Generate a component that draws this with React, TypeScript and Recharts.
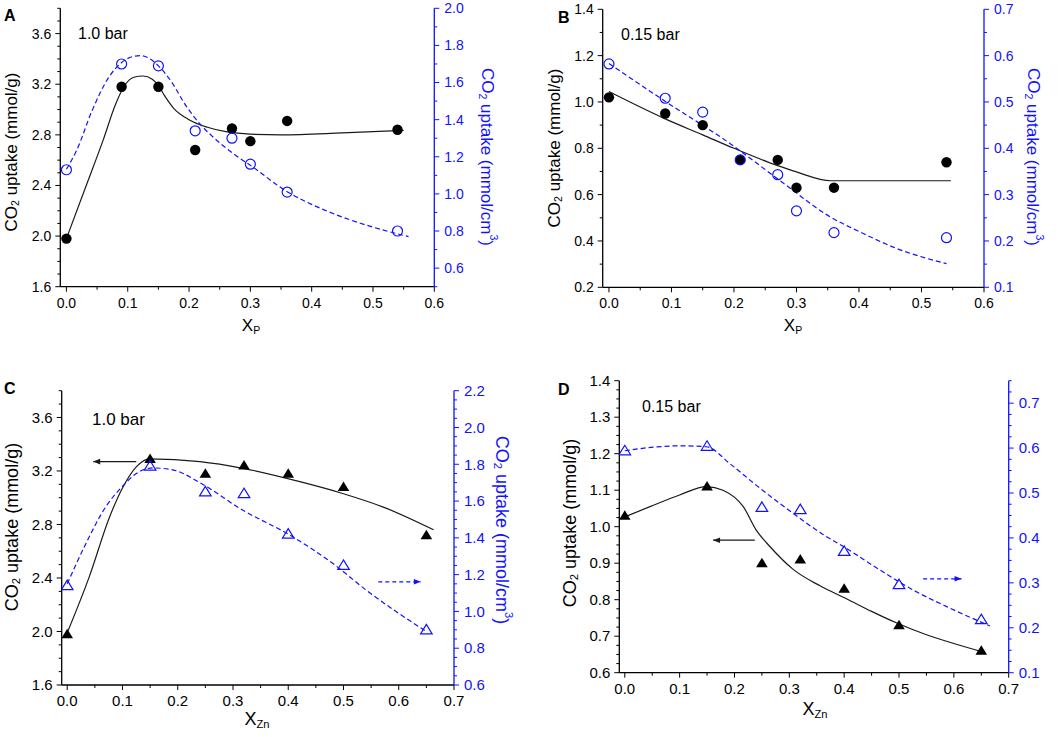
import React from 'react';
import { ComposedChart, Line, Scatter, XAxis, YAxis } from 'recharts';

const BLUE = '#1212ff';
const FONT = 'Arial, "Liberation Sans", Helvetica, sans-serif';

// ---------- data: composition (x) ----------
const xP = [0, 0.09, 0.15, 0.21, 0.27, 0.3, 0.36, 0.54];
const xZn = [0, 0.15, 0.25, 0.32, 0.4, 0.5, 0.65];

// Panel A (1.0 bar, X_P)
const aMass = [1.98, 3.18, 3.18, 2.68, 2.85, 2.75, 2.91, 2.84];
const aVol = [1.13, 1.7, 1.69, 1.34, 1.3, 1.16, 1.01, 0.8];
// Panel B (0.15 bar, X_P)
const bMass = [1.02, 0.95, 0.9, 0.75, 0.75, 0.63, 0.63, 0.74];
const bVol = [0.582, 0.508, 0.478, 0.375, 0.343, 0.265, 0.218, 0.207];
// Panel C (1.0 bar, X_Zn)
const cMass = [1.98, 3.29, 3.18, 3.24, 3.18, 3.08, 2.72];
const cVol = [1.14, 1.79, 1.65, 1.64, 1.42, 1.25, 0.9];
// Panel D (0.15 bar, X_Zn)
const dMass = [1.03, 1.11, 0.9, 0.91, 0.83, 0.73, 0.66];
const dVol = [0.594, 0.604, 0.468, 0.463, 0.37, 0.296, 0.218];

// ---------- fitted guide curves [x, y] ----------
const aMassFit: [number, number][] = [
  [0, 1.98], [0.03, 2.37], [0.06, 2.76], [0.08, 3.04], [0.095, 3.19], [0.11, 3.255], [0.125, 3.265],
  [0.14, 3.24], [0.15, 3.19], [0.16, 3.11], [0.175, 3.01], [0.2, 2.92], [0.23, 2.86], [0.26, 2.825],
  [0.3, 2.805], [0.35, 2.8], [0.45, 2.815], [0.55, 2.835],
];
const aVolFit: [number, number][] = [
  [0, 1.133], [0.017, 1.237], [0.042, 1.45], [0.07, 1.633], [0.089, 1.705], [0.108, 1.74], [0.12, 1.745],
  [0.135, 1.73], [0.15, 1.69], [0.169, 1.615], [0.196, 1.47], [0.217, 1.38], [0.238, 1.31], [0.271, 1.22],
  [0.303, 1.147], [0.36, 1.012], [0.409, 0.93], [0.463, 0.86], [0.517, 0.805], [0.558, 0.77],
];
const bMassFit: [number, number][] = [
  [0, 1.045], [0.09, 0.927], [0.15, 0.858], [0.2, 0.8], [0.27, 0.725], [0.3, 0.698], [0.355, 0.66],
  [0.4, 0.66], [0.547, 0.66],
];
const bVolFit: [number, number][] = [
  [0, 0.583], [0.087, 0.504], [0.194, 0.41], [0.273, 0.331], [0.354, 0.252], [0.407, 0.216],
  [0.46, 0.184], [0.54, 0.151],
];
const cMassFit: [number, number][] = [
  [0, 1.99], [0.04, 2.41], [0.077, 2.86], [0.101, 3.08], [0.125, 3.23], [0.149, 3.29], [0.24, 3.27],
  [0.318, 3.22], [0.421, 3.12], [0.5, 3.03], [0.572, 2.93], [0.663, 2.76],
];
const cVolFit: [number, number][] = [
  [0, 1.15], [0.034, 1.37], [0.07, 1.57], [0.1, 1.68], [0.125, 1.75], [0.155, 1.78], [0.191, 1.77],
  [0.24, 1.7], [0.318, 1.55], [0.403, 1.415], [0.481, 1.26], [0.541, 1.116], [0.65, 0.89],
];
const dMassFit: [number, number][] = [
  [0, 1.027], [0.046, 1.055], [0.1, 1.087], [0.149, 1.11], [0.179, 1.1], [0.216, 1.055], [0.24, 0.99],
  [0.265, 0.945], [0.307, 0.883], [0.356, 0.838], [0.405, 0.802], [0.45, 0.768], [0.496, 0.736],
  [0.55, 0.704], [0.6, 0.68], [0.657, 0.655],
];
const dVolFit: [number, number][] = [
  [0, 0.594], [0.052, 0.602], [0.1, 0.605], [0.149, 0.603], [0.192, 0.565], [0.24, 0.517], [0.3, 0.461],
  [0.36, 0.409], [0.405, 0.376], [0.466, 0.328], [0.526, 0.284], [0.587, 0.247], [0.666, 0.204],
];

// ---------- axis arrows [start, end] ----------
const cMassArrow: [number, number][] = [[0.125, 3.27], [0.047, 3.27]];
const cVolArrow: [number, number][] = [[0.563, 1.161], [0.64, 1.161]];
const dMassArrow: [number, number][] = [[0.237, 0.963], [0.161, 0.963]];
const dVolArrow: [number, number][] = [[0.544, 0.309], [0.614, 0.309]];

// ---------- tick labels ----------
const xTicksP = [0, 0.1, 0.2, 0.3, 0.4, 0.5, 0.6];
const xTicksZn = [0, 0.1, 0.2, 0.3, 0.4, 0.5, 0.6, 0.7];
const aLeftTicks = [1.6, 2.0, 2.4, 2.8, 3.2, 3.6];
const aRightTicks = [0.6, 0.8, 1.0, 1.2, 1.4, 1.6, 1.8, 2.0];
const bLeftTicks = [0.2, 0.4, 0.6, 0.8, 1.0, 1.2, 1.4];
const bRightTicks = [0.1, 0.2, 0.3, 0.4, 0.5, 0.6, 0.7];
const cLeftTicks = [1.6, 2.0, 2.4, 2.8, 3.2, 3.6];
const cRightTicks = [0.6, 0.8, 1.0, 1.2, 1.4, 1.6, 1.8, 2.0, 2.2];
const dLeftTicks = [0.6, 0.7, 0.8, 0.9, 1.0, 1.1, 1.2, 1.3, 1.4];
const dRightTicks = [0.1, 0.2, 0.3, 0.4, 0.5, 0.6, 0.7];

const zip = (xs: number[], ys: number[]) => xs.map((x, i) => ({ x, y: ys[i] }));
const pairs = (p: [number, number][]) => p.map(([x, y]) => ({ x, y }));
function steps(min: number, max: number, step: number) {
  const out: number[] = [];
  const n = Math.round((max - min) / step);
  for (let i = 0; i <= n; i++) out.push(+(min + i * step).toFixed(4));
  return out;
}

type Side = 'left' | 'right' | 'bottom' | 'top';
function makeTick(side: Side, majors: number[], color: string, fs: number) {
  return (props: any) => {
    const { x, y, payload } = props;
    const v = payload.value as number;
    const isMajor = majors.some((m) => Math.abs(m - v) < 1e-6);
    const len = isMajor ? 5 : 3;
    const label = v.toFixed(1);
    const tp = { fontSize: fs, fill: color, fontFamily: FONT };
    if (side === 'left')
      return (
        <g>
          <line x1={x - len} y1={y} x2={x} y2={y} stroke={color} strokeWidth={1} />
          {isMajor && <text x={x - 9} y={y} dy="0.35em" textAnchor="end" {...tp}>{label}</text>}
        </g>
      );
    if (side === 'right')
      return (
        <g>
          <line x1={x} y1={y} x2={x + len} y2={y} stroke={color} strokeWidth={1} />
          {isMajor && <text x={x + 10} y={y} dy="0.35em" textAnchor="start" {...tp}>{label}</text>}
        </g>
      );
    if (side === 'bottom')
      return (
        <g>
          <line x1={x} y1={y} x2={x} y2={y + len} stroke={color} strokeWidth={1} />
          {isMajor && <text x={x} y={y + 16} dy="0.35em" textAnchor="middle" {...tp}>{label}</text>}
        </g>
      );
    return (
      <g>
        <line x1={x} y1={y} x2={x} y2={y + len} stroke={color} strokeWidth={1} />
      </g>
    );
  };
}

const circleFilled = (p: any) => <circle cx={p.cx} cy={p.cy} r={5.2} fill="#000" />;
const circleOpen = (p: any) => <circle cx={p.cx} cy={p.cy} r={5} fill="none" stroke={BLUE} strokeWidth={1.2} />;
const triPath = (cx: number, cy: number) => `M${cx},${cy - 5.5} L${cx - 5.8},${cy + 4} L${cx + 5.8},${cy + 4} Z`;
const triFilled = (p: any) => <path d={triPath(p.cx, p.cy)} fill="#000" />;
const triOpen = (p: any) => <path d={triPath(p.cx, p.cy)} fill="none" stroke={BLUE} strokeWidth={1.2} />;

function arrowDot(color: string, dir: number) {
  return (p: any) => {
    if (p.index !== 1) return <g key={`a${p.index}`} />;
    const { cx, cy } = p;
    const d = `M${cx},${cy} L${cx - dir * 7},${cy - 2.8} L${cx - dir * 7},${cy + 2.8} Z`;
    return <path key={`a${p.index}`} d={d} fill={color} />;
  };
}

type PanelCfg = {
  box: { left: number; top: number; w: number; h: number };
  plot: { l: number; t: number; r: number; b: number };
  xDomain: [number, number];
  xMax: number;
  xMajor: number[];
  xMinor: number;
  topMinor: number;
  lDomain: [number, number];
  lMajor: number[];
  lMinor: number;
  rDomain: [number, number];
  rMajor: number[];
  rMinor: number;
  fs: number;
  tri: boolean;
  mass: { x: number; y: number }[];
  vol: { x: number; y: number }[];
  massFit: { x: number; y: number }[];
  volFit: { x: number; y: number }[];
  massArrow?: [number, number][];
  volArrow?: [number, number][];
};

const YW = 40;
const XH = 30;

function Panel({ c }: { c: PanelCfg }) {
  const margin = {
    left: c.plot.l - c.box.left - YW,
    right: c.box.left + c.box.w - c.plot.r - YW,
    top: c.plot.t - c.box.top,
    bottom: c.box.top + c.box.h - c.plot.b - XH,
  };
  const xTicks = steps(0, c.xMax, c.xMinor);
  const topTicks = steps(0, c.xMax, c.topMinor);
  const lTicks = steps(c.lDomain[0], c.lDomain[1], c.lMinor);
  const rTicks = steps(c.rDomain[0], c.rDomain[1], c.rMinor);
  const axisBlack = { stroke: '#000', strokeWidth: 1.3 };
  const axisBlue = { stroke: BLUE, strokeWidth: 1.3 };
  return (
    <div style={{ position: 'absolute', left: c.box.left, top: c.box.top }}>
      <ComposedChart width={c.box.w} height={c.box.h} margin={margin}>
        <XAxis
          xAxisId="b" type="number" dataKey="x" domain={c.xDomain} allowDataOverflow
          ticks={xTicks} interval={0} tickSize={0} tickMargin={0} tickLine={false}
          tick={makeTick('bottom', c.xMajor, '#000', c.fs)} axisLine={axisBlack} height={XH}
        />
        <XAxis
          xAxisId="t" orientation="top" type="number" dataKey="x" domain={c.xDomain} allowDataOverflow
          ticks={topTicks} interval={0} tickSize={0} tickMargin={0} tickLine={false}
          tick={makeTick('top', c.xMajor, '#000', c.fs)} axisLine={axisBlack} height={0}
        />
        <YAxis
          yAxisId="l" orientation="left" type="number" dataKey="y" domain={c.lDomain} allowDataOverflow
          ticks={lTicks} interval={0} tickSize={0} tickMargin={0} tickLine={false}
          tick={makeTick('left', c.lMajor, '#000', c.fs)} axisLine={axisBlack} width={YW}
        />
        <YAxis
          yAxisId="r" orientation="right" type="number" dataKey="y" domain={c.rDomain} allowDataOverflow
          ticks={rTicks} interval={0} tickSize={0} tickMargin={0} tickLine={false}
          tick={makeTick('right', c.rMajor, BLUE, c.fs)} axisLine={axisBlue} width={YW}
        />
        <Line
          xAxisId="b" yAxisId="l" data={c.massFit} dataKey="y" type="monotone" stroke="#1a1a1a"
          strokeWidth={1.2} dot={false} activeDot={false} isAnimationActive={false}
        />
        <Line
          xAxisId="b" yAxisId="r" data={c.volFit} dataKey="y" type="monotone" stroke={BLUE}
          strokeWidth={1.2} strokeDasharray="5 3" dot={false} activeDot={false} isAnimationActive={false}
        />
        {c.massArrow && (
          <Line
            xAxisId="b" yAxisId="l" data={pairs(c.massArrow)} dataKey="y" type="linear" stroke="#1a1a1a"
            strokeWidth={1.2} dot={arrowDot('#1a1a1a', Math.sign(c.massArrow[1][0] - c.massArrow[0][0]))}
            activeDot={false} isAnimationActive={false}
          />
        )}
        {c.volArrow && (
          <Line
            xAxisId="b" yAxisId="r" data={pairs(c.volArrow)} dataKey="y" type="linear" stroke={BLUE}
            strokeWidth={1.2} strokeDasharray="4 3"
            dot={arrowDot(BLUE, Math.sign(c.volArrow[1][0] - c.volArrow[0][0]))}
            activeDot={false} isAnimationActive={false}
          />
        )}
        <Scatter
          xAxisId="b" yAxisId="l" data={c.mass} dataKey="y" shape={c.tri ? triFilled : circleFilled}
          isAnimationActive={false}
        />
        <Scatter
          xAxisId="b" yAxisId="r" data={c.vol} dataKey="y" shape={c.tri ? triOpen : circleOpen}
          isAnimationActive={false}
        />
      </ComposedChart>
    </div>
  );
}

const panels: PanelCfg[] = [
  {
    box: { left: 0, top: 0, w: 530, h: 360 }, plot: { l: 60.3, t: 8.3, r: 434.3, b: 286.7 },
    xDomain: [-0.01, 0.6], xMax: 0.6, xMajor: xTicksP, xMinor: 0.05, topMinor: 0.05,
    lDomain: [1.6, 3.8], lMajor: aLeftTicks, lMinor: 0.1,
    rDomain: [0.5, 2.0], rMajor: aRightTicks, rMinor: 0.1,
    fs: 14, tri: false,
    mass: zip(xP, aMass), vol: zip(xP, aVol), massFit: pairs(aMassFit), volFit: pairs(aVolFit),
  },
  {
    box: { left: 530, top: 0, w: 529, h: 360 }, plot: { l: 602.7, t: 9.3, r: 984, b: 287.3 },
    xDomain: [-0.01, 0.6], xMax: 0.6, xMajor: xTicksP, xMinor: 0.05, topMinor: 0.05,
    lDomain: [0.2, 1.4], lMajor: bLeftTicks, lMinor: 0.1,
    rDomain: [0.1, 0.7], rMajor: bRightTicks, rMinor: 0.05,
    fs: 14, tri: false,
    mass: zip(xP, bMass), vol: zip(xP, bVol), massFit: pairs(bMassFit), volFit: pairs(bVolFit),
  },
  {
    box: { left: 0, top: 360, w: 530, h: 377 }, plot: { l: 61.7, t: 390.7, r: 454, b: 685 },
    xDomain: [-0.01, 0.7], xMax: 0.7, xMajor: xTicksZn, xMinor: 0.05, topMinor: 0.025,
    lDomain: [1.6, 3.8], lMajor: cLeftTicks, lMinor: 0.1,
    rDomain: [0.6, 2.2], rMajor: cRightTicks, rMinor: 0.05,
    fs: 15, tri: true,
    mass: zip(xZn, cMass), vol: zip(xZn, cVol), massFit: pairs(cMassFit), volFit: pairs(cVolFit),
    massArrow: cMassArrow, volArrow: cVolArrow,
  },
  {
    box: { left: 530, top: 360, w: 529, h: 377 }, plot: { l: 619.3, t: 380.7, r: 1008.7, b: 672.7 },
    xDomain: [-0.01, 0.7], xMax: 0.7, xMajor: xTicksZn, xMinor: 0.05, topMinor: 0.025,
    lDomain: [0.6, 1.4], lMajor: dLeftTicks, lMinor: 0.025,
    rDomain: [0.1, 0.75], rMajor: dRightTicks, rMinor: 0.025,
    fs: 15, tri: true,
    mass: zip(xZn, dMass), vol: zip(xZn, dVol), massFit: pairs(dMassFit), volFit: pairs(dVolFit),
    massArrow: dMassArrow, volArrow: dVolArrow,
  },
];

function LeftTitle({ x, y, fs }: { x: number; y: number; fs: number }) {
  return (
    <text transform={`translate(${x},${y}) rotate(-90)`} textAnchor="middle" dominantBaseline="central"
      fontSize={fs} fontFamily={FONT} fill="#000">
      CO<tspan dy={4} fontSize={fs * 0.62}>2</tspan><tspan dy={-4}> uptake (mmol/g)</tspan>
    </text>
  );
}
function RightTitle({ x, y, fs }: { x: number; y: number; fs: number }) {
  return (
    <text transform={`translate(${x},${y}) rotate(90)`} textAnchor="middle" dominantBaseline="central"
      fontSize={fs} fontFamily={FONT} fill={BLUE}>
      CO<tspan dy={4} fontSize={fs * 0.62}>2</tspan><tspan dy={-4}> uptake (mmol/cm</tspan>
      <tspan dy={-7} fontSize={fs * 0.62}>3</tspan><tspan dy={7}>)</tspan>
    </text>
  );
}
function XTitle({ x, y, sub, fs }: { x: number; y: number; sub: string; fs: number }) {
  return (
    <text x={x} y={y} textAnchor="middle" dominantBaseline="central" fontSize={fs} fontFamily={FONT} fill="#000">
      X<tspan dy={5} fontSize={fs * 0.62}>{sub}</tspan>
    </text>
  );
}

function Overlay() {
  const bold = { fontSize: 16, fontWeight: 700, fontFamily: FONT, fill: '#000' } as const;
  const ann = { fontFamily: FONT, fill: '#000' } as const;
  return (
    <svg width={1059} height={737} style={{ position: 'absolute', left: 0, top: 0, pointerEvents: 'none' }}>
      <text x={4} y={21} {...bold}>A</text>
      <text x={558} y={23} {...bold}>B</text>
      <text x={4} y={394} {...bold}>C</text>
      <text x={558} y={395} {...bold}>D</text>

      <text x={78} y={39} fontSize={16} {...ann}>1.0 bar</text>
      <text x={621} y={40} fontSize={16} {...ann}>0.15 bar</text>
      <text x={92} y={425} fontSize={17} {...ann}>1.0 bar</text>
      <text x={642} y={412} fontSize={16} {...ann}>0.15 bar</text>

      <LeftTitle x={11} y={152} fs={17} />
      <RightTitle x={487} y={157} fs={17} />
      <LeftTitle x={554} y={148} fs={17} />
      <RightTitle x={1033} y={157} fs={17} />
      <LeftTitle x={12} y={527} fs={18} />
      <RightTitle x={502} y={530} fs={18} />
      <LeftTitle x={570} y={523} fs={18} />
      <RightTitle x={1069} y={522} fs={18} />

      <XTitle x={251} y={325} sub="P" fs={17} />
      <XTitle x={793} y={325} sub="P" fs={17} />
      <XTitle x={257} y={719} sub="Zn" fs={18} />
      <XTitle x={815} y={709} sub="Zn" fs={18} />
    </svg>
  );
}

export default function App() {
  return (
    <div style={{ position: 'absolute', left: 0, top: 0, width: 1059, height: 737, overflow: 'hidden', background: '#fff' }}>
      {panels.map((c, i) => (
        <Panel key={i} c={c} />
      ))}
      <Overlay />
    </div>
  );
}
